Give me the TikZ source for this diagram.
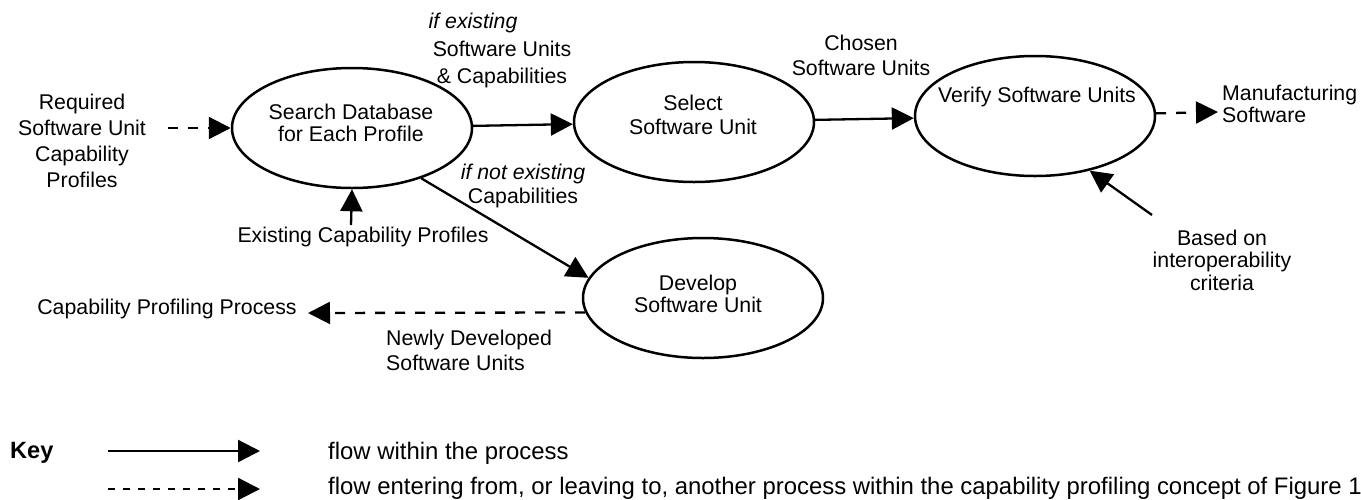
\documentclass[tikz,border=0pt]{standalone}
\usepackage{fontspec}
\setmainfont{Liberation Sans}
\usetikzlibrary{shapes.geometric,arrows.meta}
\begin{document}
\begin{tikzpicture}[x=1pt,y=-1pt,
  proc/.style={draw, ellipse, line width=2.5pt, inner sep=0pt, minimum width=240pt, minimum height=120pt},
  txt/.style={inner sep=0pt, align=center, font=\fontsize{21.3}{24}\selectfont},
  ktxt/.style={inner sep=0pt, anchor=west, font=\fontsize{23.9}{27}\selectfont},
  flow/.style={line width=2.3pt, -{Triangle[length=22pt,width=22pt]}},
  dflow/.style={flow, dash pattern=on 10pt off 10pt},
  kdflow/.style={flow, dash pattern=on 7pt off 8pt}]
\useasboundingbox (0,0) rectangle (1361,499);

% processes
\node[proc] (search) at (352,128) {};
\node[proc] (select) at (694,122) {};
\node[proc] (verify) at (1035,116) {};
\node[proc] (develop) at (703,298) {};

\node[txt, font=\fontsize{21.3}{22.5}\selectfont] (searchT) at (351,123) {Search Database\\for Each Profile};
\node[txt] (selectT) at (693,115) {Select\\Software Unit};
\node[txt] (verifyT) at (1037,97) {Verify Software Units};
\node[txt, font=\fontsize{21.3}{22.5}\selectfont] (developT) at (698,294) {Develop\\Software Unit};

% labels
\node[txt, font=\fontsize{21.3}{26}\selectfont] (req) at (82,141) {Required\\Software Unit\\Capability\\Profiles};
\node[txt, font=\itshape\fontsize{21.3}{24}\selectfont] (ifex) at (473,23) {if existing};
\node[txt, font=\fontsize{21.3}{27}\selectfont] (swcap) at (502,64) {Software Units\\\& Capabilities};
\node[txt] (ifnot) at (523,186) {\textit{if not existing}\\Capabilities};
\node[txt, font=\fontsize{21.3}{25}\selectfont] (chosen) at (861,55) {Chosen\\Software Units};
\node[txt, anchor=west, align=left, font=\fontsize{21.3}{22.5}\selectfont] (mfg) at (1222,104) {Manufacturing\\Software};
\node[txt, font=\fontsize{21.3}{22.5}\selectfont] (based) at (1222,260) {Based on\\interoperability\\criteria};
\node[txt] (exist) at (363,237) {Existing Capability Profiles};
\node[txt] (cpp) at (167,309) {Capability Profiling Process};
\node[txt, anchor=west, align=left, font=\fontsize{21.3}{25}\selectfont] (newly) at (386,350) {Newly Developed\\Software Units};

% connector ends
\coordinate (reqout) at (168,128);
\coordinate (mfgin) at (1218,112);
\coordinate (basedfrom) at (1152,215);
\coordinate (existfrom) at (351,225);
\coordinate (cppin) at (308,313);

% connectors
\draw[dflow] (reqout) -- (search.west);
\draw[flow] (search) -- (select);
\draw[flow] (select) -- (verify);
\draw[dflow] (verify) -- (mfgin);
\draw[flow] (basedfrom) -- (verify.-45);
\draw[flow] (existfrom) -- (search.south);
\draw[flow] (search.-36) -- (develop.170);
\draw[dflow] (develop.187) -- (cppin);

% key
\node[ktxt, font=\bfseries\fontsize{23.6}{27}\selectfont] (key) at (10,453) {Key};
\coordinate (k1a) at (108,451);
\coordinate (k1b) at (260,451);
\coordinate (k2a) at (108,489);
\coordinate (k2b) at (260,489);
\draw[flow] (k1a) -- (k1b);
\draw[kdflow] (k2a) -- (k2b);
\node[ktxt] (k1t) at (328,453) {flow within the process};
\node[ktxt] (k2t) at (328,488) {flow entering from, or leaving to, another process within the capability profiling concept of Figure 1};
\end{tikzpicture}
\end{document}
